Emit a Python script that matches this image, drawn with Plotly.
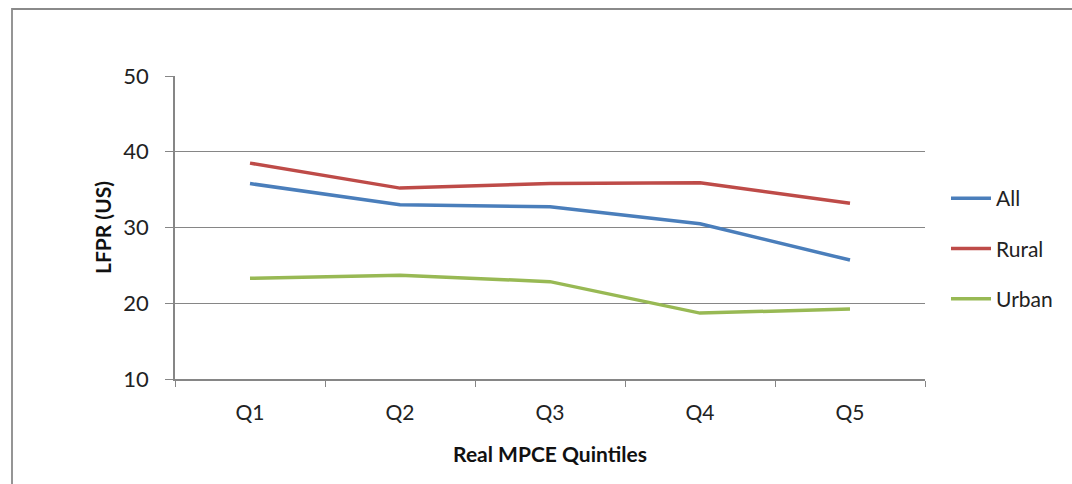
import plotly.graph_objects as go

quintiles = ["Q1", "Q2", "Q3", "Q4", "Q5"]
lfpr_all = [35.8, 33.0, 32.75, 30.5, 25.7]
lfpr_rural = [38.5, 35.2, 35.8, 35.9, 33.2]
lfpr_urban = [23.3, 23.7, 22.85, 18.7, 19.25]

series = [
    ("All", lfpr_all, "#4a7ebb"),
    ("Rural", lfpr_rural, "#be4b48"),
    ("Urban", lfpr_urban, "#98b954"),
]

FONT = "Lato, Open Sans, sans-serif"

fig = go.Figure()
for name, vals, color in series:
    fig.add_trace(go.Scatter(
        x=quintiles, y=vals, name=name, mode="lines",
        line=dict(color=color, width=3.5),
        legendgroup=name,
    ))

W, H = 1072, 484
L, R, T, B = 175, 147, 76, 105
pw, ph = W - L - R, H - T - B

def px_x(px):
    return (px - L) / pw

def px_y(py):
    return (H - B - py) / ph

fig.update_layout(
    width=W, height=H,
    margin=dict(l=L, r=R, t=T, b=B),
    paper_bgcolor="white", plot_bgcolor="white",
    font=dict(family=FONT, color="#222", size=21),
    showlegend=True,
    legend=dict(
        x=px_x(946), y=px_y(178), xanchor="left", yanchor="top",
        font=dict(size=21, color="#222"),
        tracegroupgap=20, traceorder="grouped",
        bgcolor="rgba(0,0,0,0)", itemwidth=40,
    ),
    xaxis=dict(
        type="category", range=[-0.5, 4.5],
        tickson="boundaries", ticks="outside", ticklen=6,
        tickcolor="#868686", showline=True, linecolor="#868686", linewidth=1.5,
        showgrid=False, zeroline=False,
        tickfont=dict(size=21, color="#222"),
        ticklabelstandoff=14,
        title=dict(text="<b>Real MPCE Quintiles</b>", font=dict(size=21, color="#111"), standoff=24),
    ),
    yaxis=dict(
        range=[10, 50], tickvals=[10, 20, 30, 40, 50],
        ticks="outside", ticklen=8, tickcolor="#868686",
        showline=True, linecolor="#868686", linewidth=1.5,
        showgrid=True, gridcolor="#868686", gridwidth=1.2,
        zeroline=False,
        tickfont=dict(size=22, color="#222"),
        ticklabelstandoff=12,
        title=dict(text="<b>LFPR (US)</b>", font=dict(size=21, color="#111"), standoff=6),
    ),
    shapes=[dict(
        type="rect", xref="paper", yref="paper",
        x0=px_x(12), x1=px_x(1100), y0=px_y(520), y1=px_y(9),
        line=dict(color="#8a8a8a", width=1.8), fillcolor="rgba(0,0,0,0)", layer="below",
    )],
)

fig.write_html("out.html")
